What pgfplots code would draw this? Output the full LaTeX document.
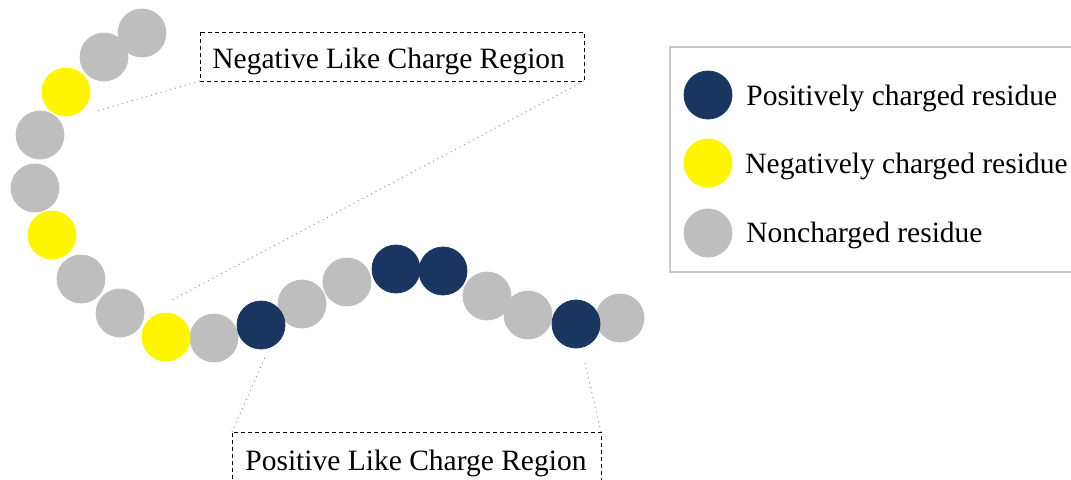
\documentclass[border=0pt]{standalone}
\usepackage{fontspec}
\setmainfont{Liberation Serif}
\usepackage{pgfplots}
\pgfplotsset{compat=1.18}
\definecolor{navyres}{RGB}{26,54,96}
\definecolor{yellowres}{RGB}{255,245,0}
\definecolor{grayres}{RGB}{190,190,190}
\definecolor{boxgray}{RGB}{200,200,200}
\definecolor{linegray}{RGB}{150,150,150}
\tikzset{lbl/.style={anchor=base west, inner sep=0pt, font=\fontsize{14.75}{17}\selectfont}}
\begin{document}
\begin{tikzpicture}
\begin{axis}[name=ax, x=0.5pt, y=0.5pt, y dir=reverse,
  xmin=0, xmax=1071, ymin=0, ymax=479, hide axis, clip=false]
% legend frame and connector lines
\draw[boxgray, line width=0.8pt, fill=white] (axis cs:670,47) rectangle (axis cs:1090,272);
\draw[linegray, dotted, line width=0.5pt] (axis cs:200,81) -- (axis cs:97,111);
\draw[linegray, dotted, line width=0.5pt] (axis cs:584,81) -- (axis cs:170,301);
\draw[linegray, dotted, line width=0.5pt] (axis cs:232,432) -- (axis cs:265,357);
\draw[linegray, dotted, line width=0.5pt] (axis cs:601,432) -- (axis cs:585,363);
% residues
\addplot[only marks, mark=*, mark size=12pt, mark options={fill=grayres, draw=grayres}]
 coordinates {(142,33) (104,57) (40,135) (35,188) (81,279) (120,313) (214,338)
 (302,304) (347,282) (487,296) (528,315) (620,318) (708,233)};
\addplot[only marks, mark=*, mark size=12pt, mark options={fill=yellowres, draw=yellowres}]
 coordinates {(66,92) (52,235) (166,337) (708,163)};
\addplot[only marks, mark=*, mark size=12pt, mark options={fill=navyres, draw=navyres}]
 coordinates {(261,325) (396,269) (443,271) (576,324) (708,95)};
% region boxes
\draw[black, dash pattern=on 2pt off 1.5pt, line width=0.5pt] (axis cs:200,32) rectangle (axis cs:584,81);
\node[lbl] at (axis cs:212,68) {Negative Like Charge Region};
\draw[black, dash pattern=on 2pt off 1.5pt, line width=0.5pt] (axis cs:232,500) -- (axis cs:232,432) -- (axis cs:601,432) -- (axis cs:601,500);
\node[lbl] at (axis cs:245,470) {Positive Like Charge Region};
% legend texts
\node[lbl] at (axis cs:746,105) {Positively charged residue};
\node[lbl] at (axis cs:745,173) {Negatively charged residue};
\node[lbl] at (axis cs:746,242) {Noncharged residue};
\end{axis}
\pgfresetboundingbox
\useasboundingbox (ax.south west) rectangle (ax.north east);
\end{tikzpicture}
\end{document}
